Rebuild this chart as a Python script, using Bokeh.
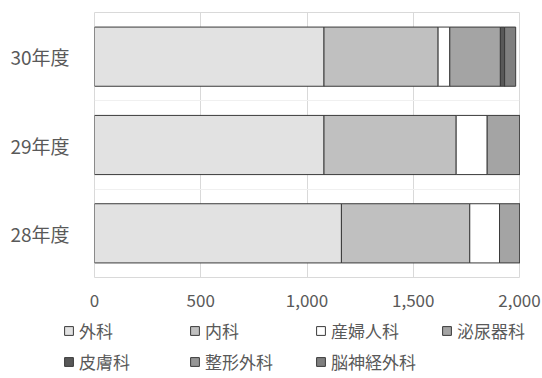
from bokeh.plotting import figure
from bokeh.layouts import column
from bokeh.models import ColumnDataSource, FixedTicker, NumeralTickFormatter, Range1d
from bokeh.embed import file_html
from bokeh.resources import INLINE

years = ["28年度", "29年度", "30年度"]
ypos = [0, 1, 2]
departments = ["外科", "内科", "産婦人科", "泌尿器科", "皮膚科", "整形外科", "脳神経外科"]
geka = [1162, 1080, 1080]
naika = [604, 622, 537]
sanfujinka = [140, 146, 55]
hinyokika = [250, 240, 238]
hifuka = [20, 20, 20]
seikei = [30, 30, 0]
noshinkei = [50, 50, 52]
colors = ["#e2e2e2", "#c0c0c0", "#ffffff", "#a4a4a4", "#585858", "#969696", "#7f7f7f"]

src = ColumnDataSource(dict(y=ypos, 外科=geka, 内科=naika, 産婦人科=sanfujinka,
                            泌尿器科=hinyokika, 皮膚科=hifuka, 整形外科=seikei, 脳神経外科=noshinkei))

FONT = "Noto Sans CJK JP"
p = figure(width=542, height=312, output_backend="svg", toolbar_location=None,
           x_range=Range1d(0, 2000), y_range=Range1d(-0.5, 2.5),
           min_border_left=94, min_border_right=23, min_border_top=12, min_border_bottom=35)

p.hbar_stack(departments, y="y", height=0.67, source=src, fill_color=colors,
             line_color="#3a3a3a", line_width=1)

p.xaxis.ticker = FixedTicker(ticks=[0, 500, 1000, 1500, 2000])
p.xaxis.formatter = NumeralTickFormatter(format="0,0")
p.yaxis.ticker = FixedTicker(ticks=ypos)
p.yaxis.major_label_overrides = {i: t for i, t in zip(ypos, years)}
for ax in (p.xaxis[0], p.yaxis[0]):
    ax.axis_line_color = None
    ax.major_tick_line_color = None
    ax.minor_tick_line_color = None
    ax.major_label_text_font = FONT
    ax.major_label_text_color = "#595959"
p.xaxis.major_label_text_font_size = "17px"
p.xaxis.major_label_standoff = 10
p.yaxis.major_label_text_font_size = "19px"
p.yaxis.major_label_standoff = 19

p.xgrid.grid_line_color = "#d9d9d9"
p.ygrid.ticker = FixedTicker(ticks=[0.5, 1.5])
p.ygrid.grid_line_color = "#f0f0f0"
p.outline_line_color = "#d9d9d9"
p.background_fill_color = "white"
p.border_fill_color = "white"

# legend panel (same series, drawn out of view so only the legend shows)
p2 = figure(width=542, height=66, output_backend="svg", toolbar_location=None,
            x_range=Range1d(0, 1), y_range=Range1d(100, 101),
            min_border=0, min_border_left=0, min_border_right=0,
            min_border_top=0, min_border_bottom=0)
p2.hbar_stack(departments, y="y", height=0.67, source=src, fill_color=colors,
              line_color="#3a3a3a", line_width=1, legend_label=departments)
p2.axis.visible = False
p2.grid.visible = False
p2.outline_line_color = None
p2.background_fill_color = "white"
p2.border_fill_color = "white"
for fig in (p, p2):
    if "frame_align" in fig.properties():
        fig.frame_align = False

lg = p2.legend[0]
lg.orientation = "horizontal"
lg.ncols = 4
lg.location = (63, 4)
lg.padding = 0
lg.margin = 0
lg.spacing = 6
lg.glyph_width = 11
lg.glyph_height = 11
lg.label_standoff = 5
lg.label_width = 104
lg.label_height = 24
lg.label_text_font = FONT
lg.label_text_font_size = "17px"
lg.label_text_color = "#595959"
lg.border_line_color = None
lg.background_fill_alpha = 0

layout = column(p, p2, spacing=0)
open("out.html", "w").write(file_html(layout, INLINE))
